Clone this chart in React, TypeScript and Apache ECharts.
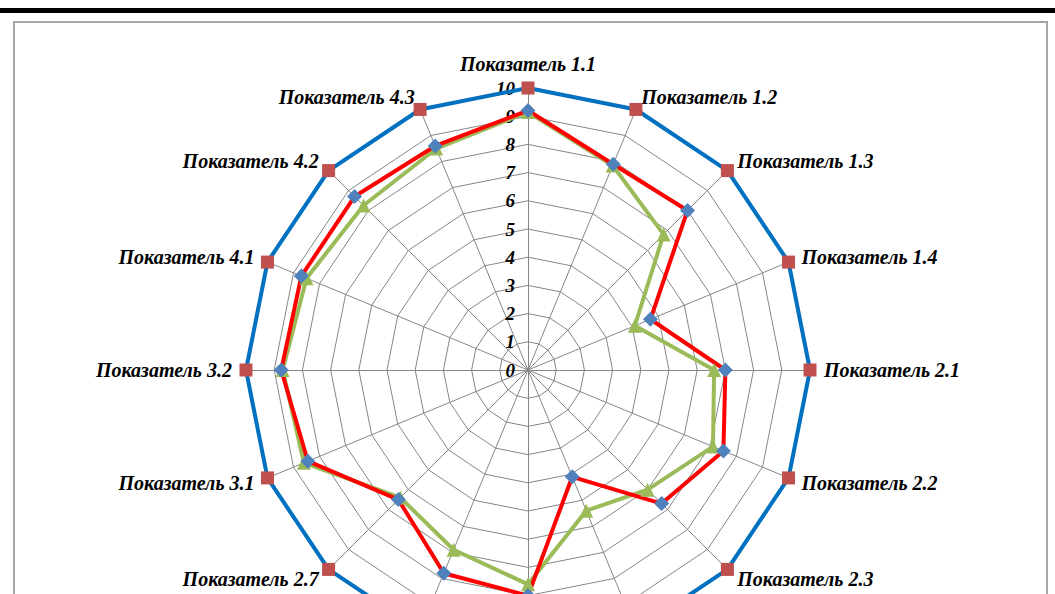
import React, { useEffect, useRef } from 'react';
import * as echarts from 'echarts';

const indicatorNames = [
  'Показатель 1.1', 'Показатель 1.2', 'Показатель 1.3', 'Показатель 1.4',
  'Показатель 2.1', 'Показатель 2.2', 'Показатель 2.3', 'Показатель 2.4',
  'Показатель 2.5', 'Показатель 2.6', 'Показатель 2.7', 'Показатель 3.1',
  'Показатель 3.2', 'Показатель 4.1', 'Показатель 4.2', 'Показатель 4.3',
];
const maxSeries = [10, 10, 10, 10, 10, 10, 10, 10, 10, 10, 10, 10, 10, 10, 10, 10];
const redSeries = [9.2, 7.9, 8.0, 4.7, 7.0, 7.5, 6.7, 4.1, 8.0, 7.8, 6.5, 8.45, 8.75, 8.7, 8.7, 8.6];
const greenSeries = [9.15, 7.85, 6.8, 4.1, 6.6, 7.1, 6.0, 5.4, 7.6, 6.9, 6.4, 8.6, 8.7, 8.5, 8.25, 8.5];
const axisMin = 0;
const axisMax = 10;

// ECharts places radar indicators counter-clockwise; reorder to get clockwise layout
const order = indicatorNames.map((_, i) => (i === 0 ? 0 : indicatorNames.length - i));
const reorder = (arr: any[]) => order.map((i) => arr[i]);

const font = "'Liberation Serif', 'Times New Roman', serif";

export default function App() {
  const ref = useRef<HTMLDivElement>(null);
  useEffect(() => {
    if (!ref.current) return;
    const chart = echarts.init(ref.current, null, { renderer: 'svg' });
    const indicator = reorder(indicatorNames).map((name, idx) => ({
      name,
      min: axisMin,
      max: axisMax,
      axisLabel: idx === 0 ? { show: true } : { show: false },
    }));
    chart.setOption({
      animation: false,
      radar: {
        center: [528, 370],
        radius: 282,
        shape: 'polygon',
        splitNumber: 10,
        indicator,
        nameGap: 14,
        axisName: {
          color: '#000',
          fontFamily: font,
          fontSize: 20,
          fontWeight: 'bold',
          fontStyle: 'italic',
        },
        axisLine: { lineStyle: { color: '#868686', width: 1 } },
        splitLine: { lineStyle: { color: '#868686', width: 1 } },
        splitArea: { show: false },
        axisTick: { show: false },
        axisLabel: {
          show: false,
          color: '#000',
          fontFamily: font,
          fontSize: 19,
          fontWeight: 'bold',
          fontStyle: 'italic',
          margin: 13,
        },
      },
      series: [
        {
          type: 'radar',
          silent: true,
          data: [
            {
              name: 'Максимум',
              value: reorder(maxSeries),
              symbol: 'rect',
              symbolSize: 13,
              itemStyle: { color: '#C0504D' },
              lineStyle: { color: '#0070C0', width: 4 },
            },
            {
              name: 'Ряд 3',
              value: reorder(greenSeries),
              symbol: 'triangle',
              symbolSize: 14,
              itemStyle: { color: '#9BBB59' },
              lineStyle: { color: '#9BBB59', width: 4 },
            },
            {
              name: 'Ряд 2',
              value: reorder(redSeries),
              symbol: 'diamond',
              symbolSize: 15,
              itemStyle: { color: '#4F81BD' },
              lineStyle: { color: '#FF0000', width: 4 },
            },
          ],
        },
      ],
    });
    return () => chart.dispose();
  }, []);

  return (
    <div style={{ position: 'absolute', left: 0, top: 0, width: 1055, height: 594, overflow: 'hidden', background: '#fff' }}>
      <div style={{ position: 'absolute', left: 0, top: 8, width: 1055, height: 5, background: '#000' }} />
      <div style={{ position: 'absolute', left: 13, top: 21, width: 1031, height: 620, border: '2px solid #a6a6a6' }} />
      <div ref={ref} style={{ position: 'absolute', left: 0, top: 0, width: 1055, height: 594 }} />
    </div>
  );
}
